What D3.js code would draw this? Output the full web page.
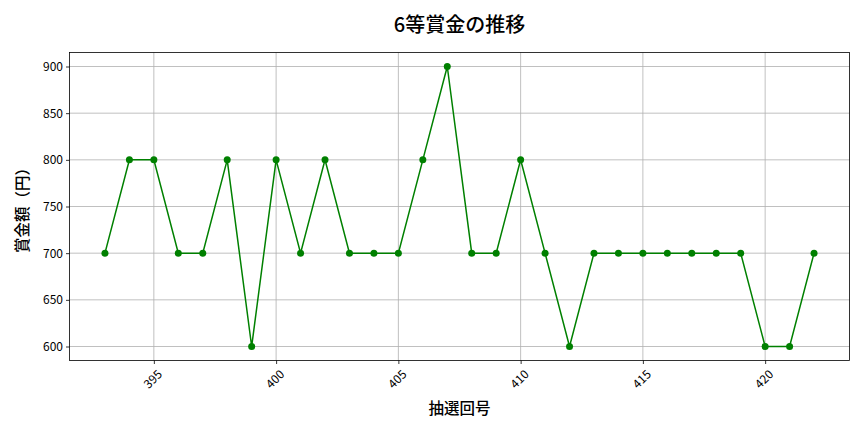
<!DOCTYPE html>
<html>
<head>
<meta charset="utf-8">
<script src="https://cdn.jsdelivr.net/npm/d3@7"></script>
<style>
  body { margin: 0; background: #fff; }
  text { font-family: "Noto Sans CJK JP", "Noto Sans", sans-serif; }
</style>
</head>
<body>
<svg id="chart" width="864" height="432"></svg>
<script>
// draw numbers and prize amounts
var draws = [393, 394, 395, 396, 397, 398, 399, 400, 401, 402, 403, 404, 405, 406, 407,
  408, 409, 410, 411, 412, 413, 414, 415, 416, 417, 418, 419, 420, 421, 422];
var prizes = [700, 800, 800, 700, 700, 800, 600, 800, 700, 800, 700, 700, 700, 800, 900,
  700, 700, 800, 700, 600, 700, 700, 700, 700, 700, 700, 700, 600, 600, 700];
var xTicks = [395, 400, 405, 410, 415, 420];
var yTicks = [600, 650, 700, 750, 800, 850, 900];

var svg = d3.select("#chart");

var LEFT = 69.5, RIGHT = 849.5, TOP = 52.5, BOTTOM = 360.5;

function pad(lo, hi) {
  var m = (hi - lo) * 0.05;
  return [lo - m, hi + m];
}

var x = d3.scaleLinear()
  .domain(pad(d3.min(draws), d3.max(draws)))
  .range([LEFT, RIGHT]);

var y = d3.scaleLinear()
  .domain(pad(d3.min(prizes), d3.max(prizes)))
  .range([BOTTOM, TOP]);

// grid
svg.append("g")
  .selectAll("line")
  .data(xTicks)
  .enter()
  .append("line")
    .attr("x1", function(d) { return x(d); })
    .attr("x2", function(d) { return x(d); })
    .attr("y1", TOP)
    .attr("y2", BOTTOM)
    .attr("stroke", "#b0b0b0")
    .attr("stroke-width", 0.8);

svg.append("g")
  .selectAll("line")
  .data(yTicks)
  .enter()
  .append("line")
    .attr("x1", LEFT)
    .attr("x2", RIGHT)
    .attr("y1", function(d) { return y(d); })
    .attr("y2", function(d) { return y(d); })
    .attr("stroke", "#b0b0b0")
    .attr("stroke-width", 0.8);

// axes
var xAxis = svg.append("g")
  .attr("transform", "translate(0," + BOTTOM + ")")
  .call(d3.axisBottom(x).tickValues(xTicks).tickSize(3.5).tickSizeOuter(0).tickFormat(d3.format("d")));

xAxis.selectAll("text")
  .style("font-size", "12px")
  .attr("fill", "#000")
  .attr("text-anchor", "end")
  .attr("dx", 0)
  .attr("dy", 0)
  .attr("transform", "translate(4,10) rotate(-45)");

var yAxis = svg.append("g")
  .attr("transform", "translate(" + LEFT + ",0)")
  .call(d3.axisLeft(y).tickValues(yTicks).tickSize(3.5).tickSizeOuter(0));

yAxis.selectAll("text")
  .style("font-size", "12px")
  .attr("fill", "#000");

svg.selectAll(".domain").remove();
svg.selectAll(".tick line").attr("stroke", "#000").attr("stroke-width", 0.8);

// frame
svg.append("rect")
  .attr("x", LEFT)
  .attr("y", TOP)
  .attr("width", RIGHT - LEFT)
  .attr("height", BOTTOM - TOP)
  .attr("fill", "none")
  .attr("stroke", "#000")
  .attr("stroke-width", 0.8);

// line + markers
var pts = draws.map(function(d, i) { return [d, prizes[i]]; });

svg.append("path")
  .datum(pts)
  .attr("fill", "none")
  .attr("stroke", "#008000")
  .attr("stroke-width", 1.5)
  .attr("d", d3.line()
    .x(function(d) { return x(d[0]); })
    .y(function(d) { return y(d[1]); }));

svg.append("g")
  .selectAll("circle")
  .data(pts)
  .enter()
  .append("circle")
    .attr("cx", function(d) { return x(d[0]); })
    .attr("cy", function(d) { return y(d[1]); })
    .attr("r", 3.5)
    .attr("fill", "#008000");

// labels
svg.append("text")
  .attr("x", (LEFT + RIGHT) / 2)
  .attr("y", 32)
  .attr("text-anchor", "middle")
  .style("font-size", "20px")
  .style("font-weight", 500)
  .text("6等賞金の推移");

svg.append("text")
  .attr("x", (LEFT + RIGHT) / 2)
  .attr("y", 414)
  .attr("text-anchor", "middle")
  .style("font-size", "15.5px")
  .style("font-weight", 500)
  .text("抽選回号");

svg.append("text")
  .attr("transform", "translate(28," + ((TOP + BOTTOM) / 2) + ") rotate(-90)")
  .attr("text-anchor", "middle")
  .style("font-size", "15.5px")
  .style("font-weight", 500)
  .text("賞金額（円）");
</script>
</body>
</html>
